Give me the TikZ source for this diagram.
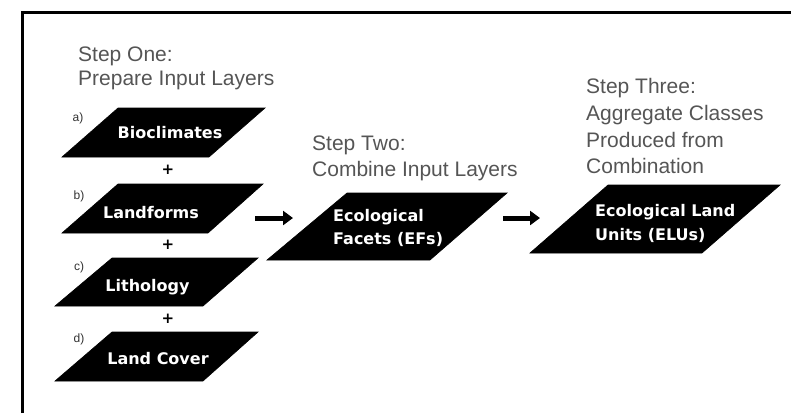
\documentclass[tikz,border=0pt]{standalone}
\usepackage{fontspec}
\setmainfont{Liberation Sans}
\newfontfamily\boxfont{DejaVu Sans}
\usetikzlibrary{arrows.meta}
\definecolor{headgray}{RGB}{85,85,85}
\definecolor{labgray}{RGB}{50,50,50}
\begin{document}
\begin{tikzpicture}[x=1pt,y=-1pt,
  heading/.style={anchor=base west, text=headgray, inner sep=0pt, font=\fontsize{21}{24}\selectfont},
  layertext/.style={anchor=base, text=white, inner sep=0pt, font=\boxfont\bfseries\fontsize{16}{22}\selectfont},
  layertextl/.style={layertext, anchor=base west},
  layer/.style={fill=black, draw=black, line width=0.6pt},
  letter/.style={text=labgray, inner sep=0pt, font=\fontsize{12}{13}\selectfont},
  plussign/.style={inner sep=0pt, font=\boxfont\bfseries\fontsize{15}{16}\selectfont},
  bigarrow/.style={line width=5pt, -{Triangle[length=10pt,width=14pt]}},
  frame/.style={line width=3pt}]
\useasboundingbox (0,0) rectangle (791,413);
% open frame
\coordinate (fb) at (22.5,413);
\coordinate (fc) at (22.5,12.5);
\coordinate (fr) at (791,12.5);
\draw[frame] (fb) -- (fc) -- (fr);

% headings
\node[heading] (h1a) at (78,61) {Step One:};
\node[heading] (h1b) at (78,85) {Prepare Input Layers};
\node[heading] (h2a) at (312,150) {Step Two:};
\node[heading] (h2b) at (312,176) {Combine Input Layers};
\node[heading] (h3a) at (586,93) {Step Three:};
\node[heading] (h3b) at (586,120) {Aggregate Classes};
\node[heading] (h3c) at (586,147) {Produced from};
\node[heading] (h3d) at (586,173) {Combination};

% input layer parallelograms
\draw[layer] (62,157) -- (209,157) -- (265,108) -- (118,108) -- cycle;
\draw[layer] (62,233) -- (208,233) -- (263,184) -- (118,184) -- cycle;
\draw[layer] (55,306) -- (203,306) -- (258,258) -- (112,258) -- cycle;
\draw[layer] (55,381) -- (203,381) -- (258,332) -- (112,332) -- cycle;
% combined layers
\draw[layer] (267,260) -- (430,260) -- (507,193) -- (347,193) -- cycle;
\draw[layer] (530,253) -- (702,253) -- (780,185) -- (608,185) -- cycle;

% layer texts
\node[layertext] (bio) at (170,138) {Bioclimates};
\node[layertext] (land) at (151,218) {Landforms};
\node[layertext] (lith) at (147.5,291) {Lithology};
\node[layertext] (cover) at (158,364) {Land Cover};
\node[layertextl] (ef1) at (333,221) {Ecological};
\node[layertextl] (ef2) at (333,244) {Facets (EFs)};
\node[layertextl] (elu1) at (595,216) {Ecological Land};
\node[layertextl] (elu2) at (595,240) {Units (ELUs)};

% letters
\node[letter] (la) at (78,118) {a)};
\node[letter] (lb) at (79,196) {b)};
\node[letter] (lc) at (79,267) {c)};
\node[letter] (ld) at (79,339) {d)};

% plus signs
\node[plussign] (p1) at (168,170) {+};
\node[plussign] (p2) at (168,245) {+};
\node[plussign] (p3) at (168,319) {+};

% arrows
\coordinate (a1s) at (255,218);
\coordinate (a1e) at (293,218);
\coordinate (a2s) at (503,218);
\coordinate (a2e) at (540,218);
\draw[bigarrow] (a1s) -- (a1e);
\draw[bigarrow] (a2s) -- (a2e);
\end{tikzpicture}
\end{document}
